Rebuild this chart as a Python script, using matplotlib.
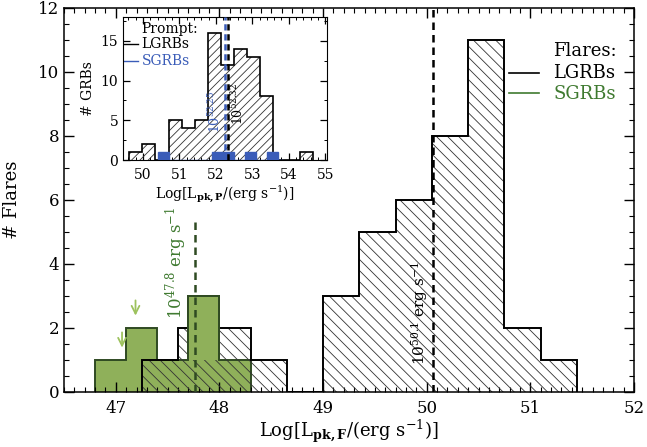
import numpy as np
import matplotlib
matplotlib.use("Agg")
import matplotlib.pyplot as plt
from matplotlib.ticker import MultipleLocator

plt.rcParams['font.family'] = ['DejaVu Serif']
plt.rcParams['mathtext.fontset'] = 'dejavuserif'
plt.rcParams['hatch.linewidth'] = 0.6

# flares, main panel
lgrb_edges = [47.25, 47.6, 47.95, 48.3, 48.65, 49.0, 49.35, 49.7, 50.05, 50.4, 50.75, 51.1, 51.45]
lgrb_counts = [1, 2, 2, 1, 0, 3, 5, 6, 8, 11, 2, 1]
sgrb_edges = [46.8, 47.1, 47.4, 47.7, 48.0, 48.3]
sgrb_counts = [1, 2, 1, 3, 1]
sgrb_top_bin = 3          # tallest SGRB bin, drawn over the hatching
lgrb_median = 50.06
sgrb_median = 47.76
sgrb_median_top = 5.4
# upper limits (x, y_from, y_to)
arrows = [(47.19, 2.95, 2.3), (47.06, 1.95, 1.3)]

# prompt emission, inset
p_lgrb_edges = [49.62, 49.98, 50.34, 50.70, 51.06, 51.42, 51.78, 52.14, 52.50,
                52.86, 53.22, 53.58, 53.94, 54.30, 54.66]
p_lgrb_counts = [1, 2, 0, 5, 4, 5, 16, 12, 14, 13, 8, 0, 0, 1]
p_sgrb_edges = [50.4, 50.7, 51.0, 51.3, 51.6, 51.9, 52.2, 52.5, 52.8, 53.1, 53.4, 53.7, 53.85]
p_sgrb_counts = [1, 0, 0, 0, 0, 1, 1, 0, 1, 0, 1, 0]
p_lgrb_median = 52.32
p_sgrb_median = 52.25

green = '#8fb05a'
green_dark = '#2f4a22'
green_txt = '#3f7a30'
green_arrow = '#9dc25e'
blue = '#3a5cb8'

fig = plt.figure(figsize=(6.47, 4.47), dpi=100)
ax = fig.add_axes([64/647, 55/447, 570/647, 384/447])

ax.stairs(sgrb_counts, sgrb_edges, fill=True, facecolor=green, edgecolor=green_dark,
          lw=1.4, zorder=1)
widths = np.diff(lgrb_edges)
ax.bar(lgrb_edges[:-1], lgrb_counts, width=widths, align='edge', fill=False,
       hatch='\\\\\\', edgecolor='#333333', lw=0, zorder=2)
ax.stairs(lgrb_counts, lgrb_edges, color='k', lw=1.4, zorder=3)

# tallest short-GRB bin sits above the long-GRB hatching
i = sgrb_top_bin
ax.stairs([sgrb_counts[i]], sgrb_edges[i:i + 2], baseline=1, fill=True,
          facecolor=green, edgecolor='none', zorder=4)
ax.stairs([sgrb_counts[i]], sgrb_edges[i:i + 2], baseline=1, fill=False,
          color=green_dark, lw=1.4, zorder=4)

ax.plot([lgrb_median, lgrb_median], [0, 12], color='k', ls=(0, (3, 2)), lw=1.8, zorder=5)
ax.plot([sgrb_median, sgrb_median], [0, sgrb_median_top], color=green_dark,
        ls=(0, (3, 2)), lw=1.8, zorder=5)

for x, y0, y1 in arrows:
    ax.annotate('', xy=(x, y1), xytext=(x, y0),
                arrowprops=dict(arrowstyle='->', color=green_arrow, lw=1.3,
                                mutation_scale=14), zorder=5)

ax.text(47.58, 4.05, r'$10^{47.8}$ erg s$^{-1}$', rotation=90, color=green_txt,
        fontsize=12, ha='center', va='center')
ax.text(49.93, 2.45, r'$10^{50.1}$ erg s$^{-1}$', rotation=90, color='k',
        fontsize=11, ha='center', va='center')

ax.text(0.858, 0.889, 'Flares:', transform=ax.transAxes, fontsize=13, va='center')
ax.text(0.858, 0.830, 'LGRBs', transform=ax.transAxes, fontsize=13, va='center')
ax.text(0.858, 0.776, 'SGRBs', transform=ax.transAxes, fontsize=13, va='center',
        color=green_txt)
ax.plot([0.781, 0.834], [0.830, 0.830], color='k', lw=1.2, transform=ax.transAxes)
ax.plot([0.781, 0.834], [0.778, 0.778], color=green_txt, lw=1.2, transform=ax.transAxes)

ax.set_xlim(46.5, 52)
ax.set_ylim(0, 12)
ax.xaxis.set_major_locator(MultipleLocator(1))
ax.xaxis.set_minor_locator(MultipleLocator(0.1))
ax.yaxis.set_major_locator(MultipleLocator(2))
ax.yaxis.set_minor_locator(MultipleLocator(0.5))
ax.tick_params(which='both', direction='in', top=True, right=True, labelsize=12)
ax.tick_params(which='major', length=7, width=1)
ax.tick_params(which='minor', length=3.5, width=0.8)
ax.tick_params(axis='x', pad=6)
for s in ax.spines.values():
    s.set_linewidth(1.1)
ax.set_xlabel(r'Log[L$_{\mathbf{pk,F}}$/(erg s$^{-1}$)]', fontsize=13, labelpad=0)
ax.set_ylabel('# Flares', fontsize=13, labelpad=12)

# inset
ins = fig.add_axes([123/647, (447 - 160)/447, 204/647, 143/447])
pw = np.diff(p_lgrb_edges)
ins.bar(p_lgrb_edges[:-1], p_lgrb_counts, width=pw, align='edge', fill=False,
        hatch='////', edgecolor='#333333', lw=0, zorder=2)
ins.stairs(p_lgrb_counts, p_lgrb_edges, color='k', lw=1.2, zorder=3)
ins.stairs(p_sgrb_counts, p_sgrb_edges, fill=True, facecolor=blue, edgecolor=blue,
           lw=1.0, zorder=4)
ins.plot([p_lgrb_median, p_lgrb_median], [0, 18], color='k', ls=(0, (2.5, 1.5)),
         lw=1.8, zorder=5)
ins.plot([p_sgrb_median, p_sgrb_median], [0, 18], color=blue, ls=(0, (2.5, 1.5)),
         lw=1.8, zorder=6)
ins.text(51.97, 6.1, r'$10^{52.25}$', rotation=90, color=blue, fontsize=9,
         ha='center', va='center')
ins.text(52.62, 7.1, r'$10^{52.32}$', rotation=90, color='k', fontsize=9,
         ha='center', va='center')

ins.text(0.092, 0.914, 'Prompt:', transform=ins.transAxes, fontsize=10, va='center')
ins.text(0.092, 0.809, 'LGRBs', transform=ins.transAxes, fontsize=10, va='center')
ins.text(0.092, 0.694, 'SGRBs', transform=ins.transAxes, fontsize=10, va='center',
         color=blue)
ins.plot([0.0, 0.074], [0.809, 0.809], color='k', lw=1.0, transform=ins.transAxes)
ins.plot([0.0, 0.074], [0.694, 0.694], color=blue, lw=1.0, transform=ins.transAxes)

ins.set_xlim(49.45, 55.05)
ins.set_ylim(0, 18)
ins.xaxis.set_major_locator(MultipleLocator(1))
ins.xaxis.set_minor_locator(MultipleLocator(0.2))
ins.yaxis.set_major_locator(MultipleLocator(5))
ins.yaxis.set_minor_locator(MultipleLocator(2.5))
ins.tick_params(which='both', direction='in', top=True, right=True, labelsize=10)
ins.tick_params(which='major', length=5, width=0.9)
ins.tick_params(which='minor', length=2.5, width=0.7)
ins.tick_params(axis='x', pad=6)
ins.set_xlabel(r'Log[L$_{\mathbf{pk,P}}$/(erg s$^{-1}$)]', fontsize=10, labelpad=1)
ins.set_ylabel('# GRBs', fontsize=10, labelpad=4)

fig.savefig('out.png', dpi=100)
